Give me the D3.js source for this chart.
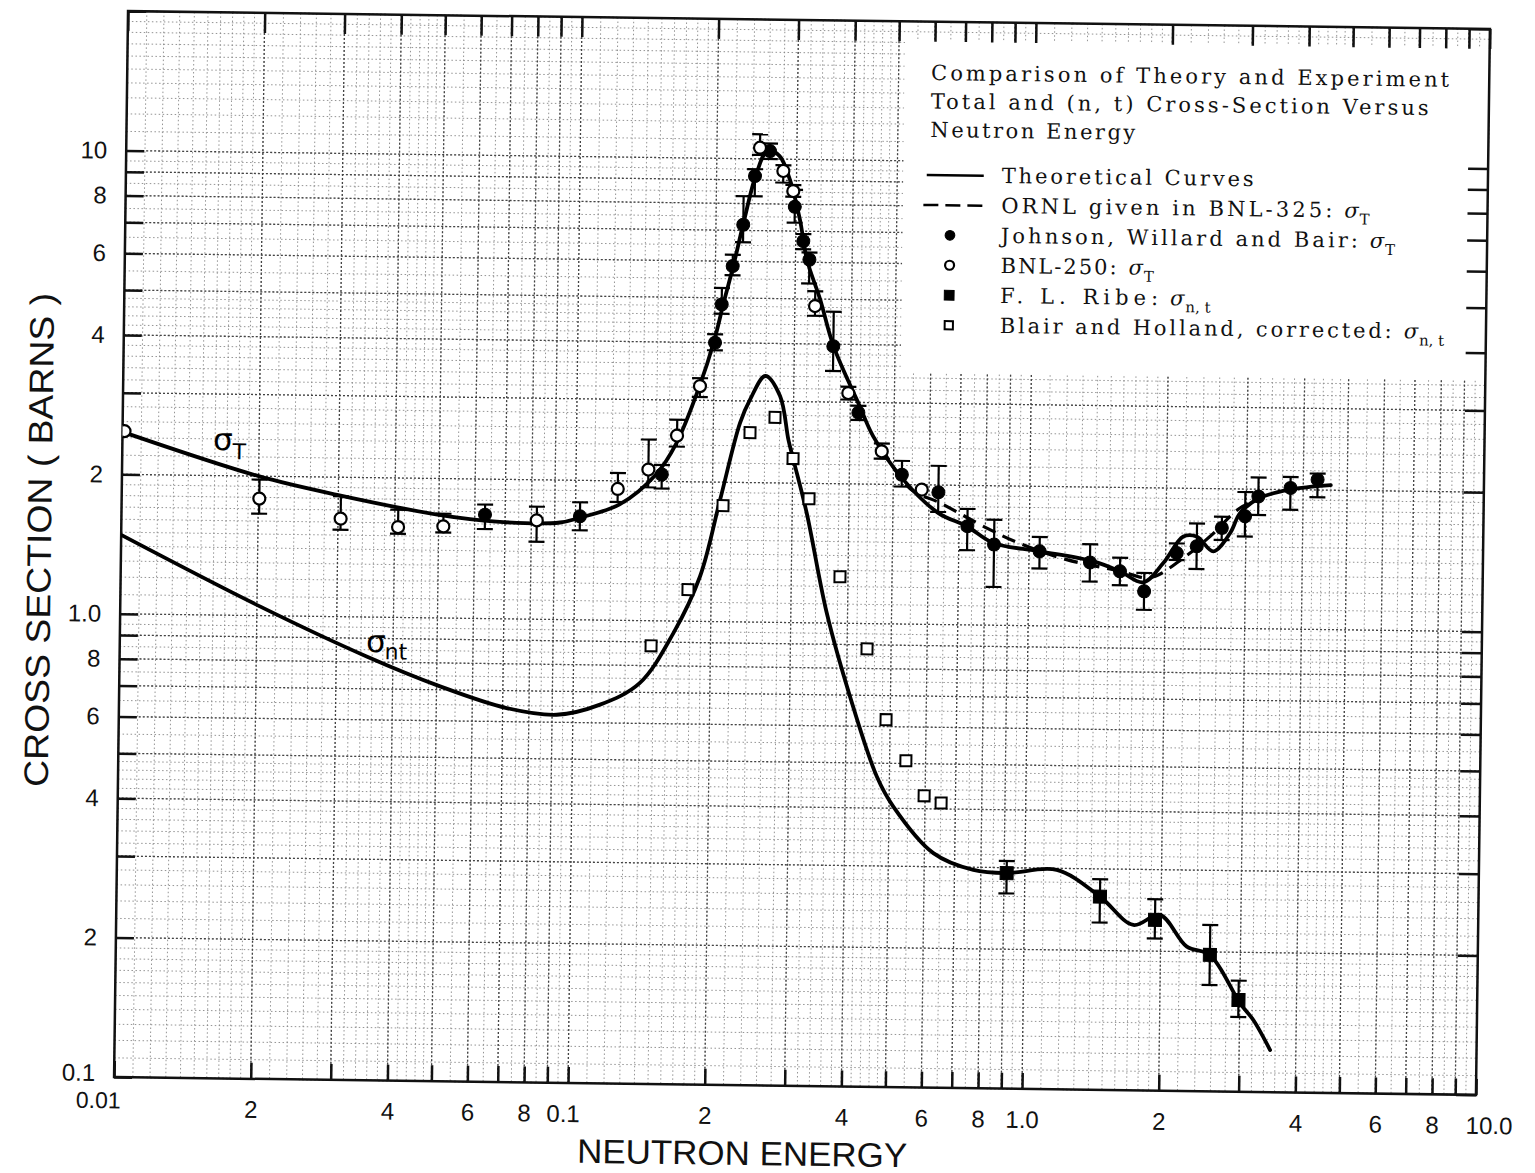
<!DOCTYPE html>
<html lang="en">
<head>
    <meta charset="utf-8">
    <style type="text/css">
        body { margin: 0; background: #fff; }
        svg { display: block; }
        .frame { fill: none; stroke: #111; stroke-width: 2.5; }
        .axis line { stroke: #111; stroke-width: 2.5; }
        .axis text { font-family: "Liberation Sans", Arial, sans-serif; font-size: 24px; fill: #111; }
        .grid-minor { stroke: #888; stroke-width: 0.9; stroke-dasharray: 1.5 2.5; }
        .grid-major { stroke: #444; stroke-width: 1.3; stroke-dasharray: 2 2; }
        .curve { fill: none; stroke: #000; stroke-width: 3.8; stroke-linejoin: round; stroke-linecap: round; }
        .dashed { stroke-dasharray: 14 8; stroke-width: 3.2; stroke-linecap: butt; }
        .err line { stroke: #000; stroke-width: 2.2; }
        .legend text { font-family: "DejaVu Serif", "Liberation Serif", serif; font-size: 21px; fill: #111; }
        .title { font-family: "Liberation Sans", Arial, sans-serif; font-size: 34px; fill: #111; }
        .clabel { font-family: "DejaVu Sans", sans-serif; fill: #000; }
    </style>
</head>
<body>
<svg width="1535" height="1173"></svg>

<script src="https://d3js.org/d3.v7.min.js" type="text/javascript"></script>

<script type="text/javascript">
    // theoretical curves, [neutron energy (MeV), cross section (barns)]
    var sigmaTCurve = [
        [0.01, 2.47], [0.02, 2.0], [0.03, 1.83], [0.05, 1.67], [0.067, 1.62], [0.0925, 1.62],
        [0.102, 1.66], [0.125, 1.78], [0.15, 2.07], [0.166, 2.42], [0.186, 3.22], [0.2, 4.06],
        [0.209, 4.88], [0.219, 5.86], [0.23, 7.27], [0.245, 9.33], [0.259, 10.45], [0.275, 10.15],
        [0.29, 9.05], [0.306, 7.42], [0.318, 6.08], [0.341, 4.99], [0.366, 3.96], [0.42, 2.94],
        [0.45, 2.54], [0.526, 2.05], [0.63, 1.74], [0.728, 1.633], [0.834, 1.505], [1.057, 1.448],
        [1.386, 1.382], [1.588, 1.318], [1.789, 1.25], [1.977, 1.377], [2.185, 1.574], [2.338, 1.575],
        [2.546, 1.465], [2.77, 1.606], [2.91, 1.776], [3.215, 1.917], [3.74, 2.0], [4.6, 2.05]
    ];
    var sigmaTOrnl = [
        [0.47, 2.4], [0.545, 1.96], [0.635, 1.83], [0.806, 1.62], [0.955, 1.503], [1.211, 1.392],
        [1.59, 1.32], [1.85, 1.28], [2.2, 1.42], [2.507, 1.58], [2.907, 1.82], [3.2, 1.9]
    ];
    var sigmaNtCurve = [
        [0.01, 1.48], [0.0203, 1.047], [0.035, 0.822], [0.0509, 0.712], [0.0714, 0.642], [0.0921, 0.623],
        [0.1147, 0.657], [0.14, 0.733], [0.1656, 0.942], [0.1888, 1.25], [0.208, 1.833], [0.229, 2.69],
        [0.2405, 3.02], [0.2596, 3.40], [0.28, 3.08], [0.293, 2.48], [0.3008, 2.248], [0.323, 1.726],
        [0.36, 1.051], [0.4073, 0.695], [0.469, 0.468], [0.511, 0.4035], [0.628, 0.321], [0.77, 0.296],
        [0.912, 0.292], [1.175, 0.2977], [1.466, 0.2614], [1.74, 0.2275], [1.99, 0.2396], [2.285, 0.205],
        [2.57, 0.197], [3.005, 0.1552], [3.217, 0.143], [3.51, 0.1233]
    ];

    // measured points, [energy, value, error low, error high]
    var johnsonPts = [
        [0.0632, 1.676, 1.56, 1.762], [0.1023, 1.673, 1.56, 1.793], [0.1545, 2.07, 1.93, 2.17],
        [0.2006, 4.0, 3.85, 4.17], [0.207, 4.84, 4.62, 5.25], [0.2183, 5.86, 5.6, 6.2],
        [0.2297, 7.2, 6.6, 8.3], [0.243, 9.18, 8.3, 9.5], [0.2617, 10.4, 10.0, 10.8],
        [0.298, 7.9, 7.3, 8.6], [0.3118, 6.66, 6.4, 6.9], [0.322, 6.08, 5.4, 6.3],
        [0.3656, 3.96, 3.5, 4.7], [0.417, 2.85, 2.75, 2.95], [0.522, 2.10, 1.98, 2.25],
        [0.629, 1.929, 1.75, 2.2], [0.7302, 1.633, 1.45, 1.78], [0.837, 1.493, 1.21, 1.69],
        [1.055, 1.448, 1.33, 1.555], [1.363, 1.375, 1.25, 1.505], [1.588, 1.318, 1.23, 1.41],
        [1.797, 1.195, 1.09, 1.31], [2.115, 1.449, 1.40, 1.52], [2.34, 1.50, 1.34, 1.68],
        [2.654, 1.646, 1.55, 1.74], [2.984, 1.747, 1.58, 1.97], [3.188, 1.93, 1.76, 2.12],
        [3.75, 2.017, 1.81, 2.13], [4.30, 2.105, 1.93, 2.17]
    ];
    var bnl250Pts = [
        [0.0101, 2.48, null, null], [0.0201, 1.789, 1.66, 1.966], [0.0304, 1.628, 1.54, 1.82],
        [0.0407, 1.567, 1.516, 1.708], [0.0512, 1.577, 1.53, 1.68], [0.0822, 1.635, 1.47, 1.75],
        [0.1237, 1.921, 1.80, 2.08], [0.1443, 2.12, 1.94, 2.46], [0.1665, 2.514, 2.38, 2.72],
        [0.1864, 3.22, 3.05, 3.35], [0.2488, 10.57, 10.2, 11.3], [0.2805, 9.43, 8.9, 9.7],
        [0.2954, 8.54, 8.3, 8.8], [0.3324, 4.83, 4.6, 5.2], [0.3957, 3.14, 3.04, 3.24],
        [0.4707, 2.356, 2.27, 2.45], [0.578, 1.953, null, null]
    ];
    var ribePts = [
        [0.912, 0.292, 0.264, 0.310], [1.466, 0.2614, 0.2297, 0.285], [1.941, 0.2336, 0.213, 0.259],
        [2.57, 0.197, 0.1697, 0.2287], [2.98, 0.1578, 0.145, 0.1737]
    ];
    var blairPts = [
        [0.148, 0.883], [0.1778, 1.17], [0.2112, 1.78], [0.241, 2.564], [0.2733, 2.77], [0.3003, 2.26],
        [0.3265, 1.853], [0.384, 1.26], [0.4426, 0.882], [0.4897, 0.621], [0.543, 0.507], [0.597, 0.4265],
        [0.651, 0.412]
    ];

    // axis ticks and labels
    var xTickValues = [0.01, 0.02, 0.04, 0.06, 0.08, 0.1, 0.2, 0.4, 0.6, 0.8, 1, 2, 4, 6, 8, 10];
    var xTickLabels = ["0.01", "2", "4", "6", "8", "0.1", "2", "4", "6", "8", "1.0", "2", "4", "6", "8", "10.0"];
    var yTickValues = [0.1, 0.2, 0.4, 0.6, 0.8, 1, 2, 4, 6, 8, 10];
    var yTickLabels = ["0.1", "2", "4", "6", "8", "1.0", "2", "4", "6", "8", "10"];

    var legendTitle = ["Comparison of Theory and Experiment", "Total and (n, t) Cross-Section Versus", "Neutron Energy"];
    var legendLabels = ["Theoretical Curves", "ORNL given in BNL-325:", "Johnson, Willard and Bair:",
        "BNL-250:", "F. L. Ribe:", "Blair and Holland, corrected:"];
    var legendSubs = ["", "T", "T", "T", "n, t", "n, t"];
    var legendKinds = ["line", "dash", "dot", "ring", "square", "box"];

    var svg = d3.select("svg"),
        plotL = 121, plotR = 1483, plotT = 20, plotB = 1086,
        tilt = 0.75, cx = 802, cy = 553;

    var x = d3.scaleLog().domain([0.01, 10]).range([plotL, plotR]);
    var y = d3.scaleLog().domain([0.1, 20]).range([plotB, plotT]);

    // the scanned sheet sits slightly askew
    var g = svg.append("g").attr("transform", "rotate(" + tilt + "," + cx + "," + cy + ")");

    // page position -> position inside the tilted group
    function local(px, py) {
        var a = tilt * Math.PI / 180, dx = px - cx, dy = py - cy;
        return [cx + dx * Math.cos(a) + dy * Math.sin(a), cy - dx * Math.sin(a) + dy * Math.cos(a)];
    }

    // log paper rulings
    function ruling(decades, maxV) {
        var minor = [], major = [];
        decades.forEach(function (b) {
            var m;
            for (m = 10; m < 20; m += 1) minor.push(b * m / 10);
            for (m = 20; m < 50; m += 2) minor.push(b * m / 10);
            for (m = 50; m < 100; m += 5) minor.push(b * m / 10);
            for (m = 1; m < 10; m++) major.push(b * m);
        });
        major.push(decades[decades.length - 1] * 10);
        return {
            minor: minor.filter(function (v) { return v <= maxV * 1.0001; }),
            major: major.filter(function (v) { return v <= maxV * 1.0001; })
        };
    }
    var gx = ruling([0.01, 0.1, 1], 10), gy = ruling([0.1, 1, 10], 20);

    var grid = g.append("g");
    grid.selectAll(".vx").data(gx.minor).enter().append("line").attr("class", "grid-minor")
        .attr("x1", x).attr("x2", x).attr("y1", plotT).attr("y2", plotB);
    grid.selectAll(".hy").data(gy.minor).enter().append("line").attr("class", "grid-minor")
        .attr("y1", y).attr("y2", y).attr("x1", plotL).attr("x2", plotR);
    grid.selectAll(".vX").data(gx.major).enter().append("line").attr("class", "grid-major")
        .attr("x1", x).attr("x2", x).attr("y1", plotT).attr("y2", plotB);
    grid.selectAll(".hY").data(gy.major).enter().append("line").attr("class", "grid-major")
        .attr("y1", y).attr("y2", y).attr("x1", plotL).attr("x2", plotR);

    // blank patch behind the legend
    var lp = local(905, 40);
    g.append("rect").attr("x", lp[0]).attr("y", lp[1]).attr("width", plotR - lp[0]).attr("height", 332)
        .attr("fill", "#fff");

    // axes
    var labelOf = function (vals, labs) {
        return function (d) {
            for (var i = 0; i < vals.length; i++) if (Math.abs(vals[i] - d) < 1e-9) return labs[i];
            return "";
        };
    };
    var near = function (a, b) { return Math.abs(a - b) < 1e-9; };

    var xb = g.append("g").attr("class", "axis").attr("transform", "translate(0," + plotB + ")")
        .call(d3.axisBottom(x).tickValues(gx.major).tickSize(-16).tickPadding(22)
            .tickFormat(labelOf(xTickValues, xTickLabels)));
    xb.select(".domain").remove();
    xb.selectAll("text").each(function (d) {
        var t = d3.select(this);
        if (near(d, 0.01)) t.attr("x", -16).attr("y", 15).style("font-size", "23px");
        if (near(d, 10)) t.attr("x", 13);
        if (near(d, 0.1)) t.attr("x", -5);
    });

    var xt = g.append("g").attr("class", "axis").attr("transform", "translate(0," + plotT + ")")
        .call(d3.axisTop(x).tickValues(gx.major).tickSize(-20).tickFormat(""));
    xt.select(".domain").remove();

    var yl = g.append("g").attr("class", "axis").attr("transform", "translate(" + plotL + ",0)")
        .call(d3.axisLeft(y).tickValues(gy.major).tickSize(-18).tickPadding(19)
            .tickFormat(labelOf(yTickValues, yTickLabels)));
    yl.select(".domain").remove();
    yl.selectAll("text").filter(function (d) { return near(d, 0.1); }).attr("dy", "0.15em");

    var yr = g.append("g").attr("class", "axis").attr("transform", "translate(" + plotR + ",0)")
        .call(d3.axisRight(y).tickValues(gy.major).tickSize(-20).tickFormat(""));
    yr.select(".domain").remove();

    g.append("rect").attr("class", "frame")
        .attr("x", plotL).attr("y", plotT).attr("width", plotR - plotL).attr("height", plotB - plotT);

    // axis titles
    var tx = local(742, 1165);
    g.append("text").attr("class", "title").attr("x", tx[0]).attr("y", tx[1])
        .attr("text-anchor", "middle").attr("textLength", 330).attr("lengthAdjust", "spacingAndGlyphs")
        .text("NEUTRON ENERGY");
    var ty = local(51, 540);
    g.append("text").attr("class", "title")
        .attr("transform", "translate(" + ty[0] + "," + ty[1] + ") rotate(-90)")
        .attr("text-anchor", "middle").attr("textLength", 494).attr("lengthAdjust", "spacingAndGlyphs")
        .text("CROSS SECTION ( BARNS )");

    // plotted data
    g.append("clipPath").attr("id", "plotclip").append("rect")
        .attr("x", plotL).attr("y", plotT).attr("width", plotR - plotL).attr("height", plotB - plotT);
    var plot = g.append("g").attr("clip-path", "url(#plotclip)");

    var line = d3.line()
        .x(function (d) { return x(d[0]); })
        .y(function (d) { return y(d[1]); })
        .curve(d3.curveCatmullRom.alpha(0.5));

    plot.append("path").datum(sigmaTOrnl).attr("class", "curve dashed").attr("d", line);
    plot.append("path").datum(sigmaTCurve).attr("class", "curve").attr("d", line);
    plot.append("path").datum(sigmaNtCurve).attr("class", "curve").attr("d", line);

    function errorBars(pts) {
        var eb = plot.append("g").attr("class", "err");
        var withErr = pts.filter(function (d) { return d[2] != null; });
        eb.selectAll(".stem").data(withErr).enter().append("line")
            .attr("x1", function (d) { return x(d[0]); }).attr("x2", function (d) { return x(d[0]); })
            .attr("y1", function (d) { return y(d[2]); }).attr("y2", function (d) { return y(d[3]); });
        [2, 3].forEach(function (k) {
            eb.selectAll(".cap" + k).data(withErr).enter().append("line")
                .attr("x1", function (d) { return x(d[0]) - 8; }).attr("x2", function (d) { return x(d[0]) + 8; })
                .attr("y1", function (d) { return y(d[k]); }).attr("y2", function (d) { return y(d[k]); });
        });
    }
    errorBars(johnsonPts);
    errorBars(bnl250Pts);
    errorBars(ribePts);

    function marker(parent, kind, px, py, s) {
        s = s || 1;
        if (kind === "dot" || kind === "ring") {
            parent.append("circle").attr("cx", px).attr("cy", py).attr("r", (kind === "dot" ? 6.5 : 6) * s)
                .attr("fill", kind === "dot" ? "#000" : "#fff")
                .attr("stroke", "#000").attr("stroke-width", kind === "dot" ? 1 : 2.2);
        } else {
            var w = (kind === "square" ? 13 : 11) * s;
            parent.append("rect").attr("x", px - w / 2).attr("y", py - w / 2).attr("width", w).attr("height", w)
                .attr("fill", kind === "square" ? "#000" : "#fff")
                .attr("stroke", "#000").attr("stroke-width", kind === "square" ? 1 : 2);
        }
    }
    var marks = plot.append("g");
    johnsonPts.forEach(function (d) { marker(marks, "dot", x(d[0]), y(d[1])); });
    bnl250Pts.forEach(function (d) { marker(marks, "ring", x(d[0]), y(d[1])); });
    ribePts.forEach(function (d) { marker(marks, "square", x(d[0]), y(d[1])); });
    blairPts.forEach(function (d) { marker(marks, "box", x(d[0]), y(d[1])); });

    // curve labels
    var lt = local(213, 450), ln = local(366, 652);
    var labT = g.append("text").attr("class", "clabel").attr("x", lt[0]).attr("y", lt[1]).style("font-size", "31px");
    labT.append("tspan").text("σ");
    labT.append("tspan").attr("dy", 9).style("font-size", "22px").text("T");
    var labN = g.append("text").attr("class", "clabel").attr("x", ln[0]).attr("y", ln[1]).style("font-size", "31px");
    labN.append("tspan").text("σ");
    labN.append("tspan").attr("dy", 7).attr("dx", -1).style("font-size", "22px").text("nt");

    // legend, laid out from its top-left text baseline
    var titleWidths = [518, 498, 205], labelWidths = [252, 331, 357, 116, 158, 392];
    var la = local(931, 80);
    var legend = g.append("g").attr("class", "legend").attr("transform", "translate(" + la[0] + "," + la[1] + ")");

    legend.selectAll(".tl").data(legendTitle).enter().append("text")
        .attr("x", 0).attr("y", function (d, i) { return i * 28.5; })
        .attr("textLength", function (d, i) { return titleWidths[i]; }).attr("lengthAdjust", "spacing")
        .text(function (d) { return d; });

    legendLabels.forEach(function (lab, i) {
        var cyRow = 95 + i * 30, row = legend.append("g");
        var k = legendKinds[i];
        if (k === "line") {
            row.append("line").attr("x1", -3).attr("x2", 54).attr("y1", cyRow).attr("y2", cyRow)
                .attr("stroke", "#000").attr("stroke-width", 2.5);
        } else if (k === "dash") {
            row.append("line").attr("x1", -6).attr("x2", 55).attr("y1", cyRow).attr("y2", cyRow)
                .attr("stroke", "#000").attr("stroke-width", 2.5).attr("stroke-dasharray", "15 7");
        } else {
            marker(row, k, 21, cyRow, 0.75);
        }
        var tx0 = 72, ty0 = cyRow + 7;
        row.append("text").attr("x", tx0).attr("y", ty0)
            .attr("textLength", labelWidths[i]).attr("lengthAdjust", "spacing").text(lab);
        if (legendSubs[i]) {
            var sx = tx0 + labelWidths[i] + 12;
            var sg = row.append("text").attr("x", sx).attr("y", ty0);
            sg.append("tspan").style("font-style", "italic").text("σ");
            sg.append("tspan").attr("dy", 7).attr("dx", 1).style("font-size", "15px").text(legendSubs[i]);
        }
    });
</script>

</body>
</html>
